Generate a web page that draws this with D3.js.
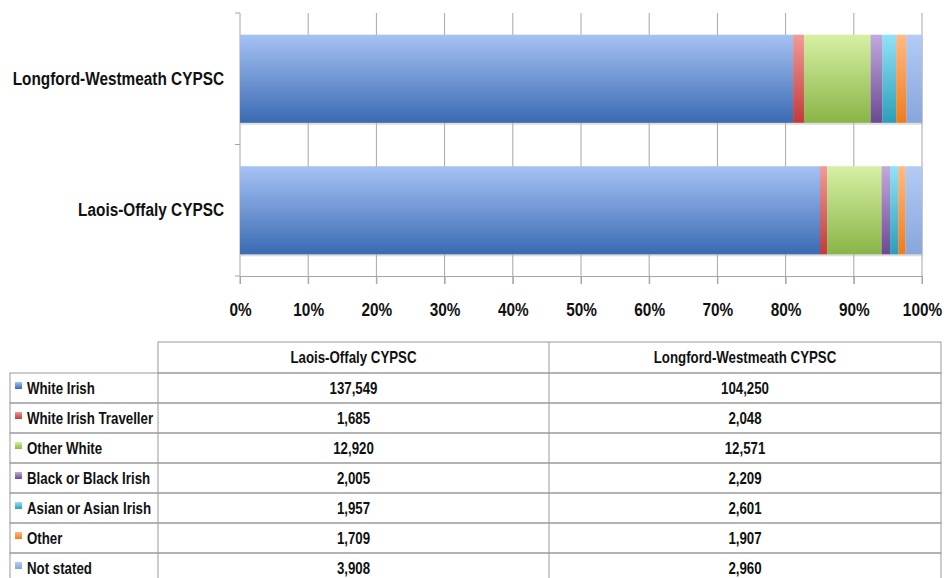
<!DOCTYPE html>
<html>
<head>
<meta charset="utf-8">
<script src="https://cdn.jsdelivr.net/npm/d3@7"></script>
<style>
  body { margin: 0; background: #fff; }
  text { font-family: "Liberation Sans", Arial, sans-serif; }
</style>
</head>
<body>
<div id="chart"></div>
<script>
// Data from the table
const categories = ["Laois-Offaly CYPSC", "Longford-Westmeath CYPSC"];
const groups = ["White Irish", "White Irish Traveller", "Other White", "Black or Black Irish",
  "Asian or Asian Irish", "Other", "Not stated"];
const laoisOffaly = [137549, 1685, 12920, 2005, 1957, 1709, 3908];
const longfordWestmeath = [104250, 2048, 12571, 2209, 2601, 1907, 2960];
const xTicks = [0, 0.1, 0.2, 0.3, 0.4, 0.5, 0.6, 0.7, 0.8, 0.9, 1];

// gradient colours (top, bottom) per group
const colTop = ["#a6c2f4", "#f29a98", "#d6f0a4", "#c2a9dd", "#92e2f8", "#ffba84", "#b3cbf5"];
const colBot = ["#3a6ab2", "#c23a3a", "#8ab447", "#6a4a92", "#2c9eb8", "#f07c1c", "#88a6dc"];

const width = 944, height = 578;
const x0 = 240, x1 = 922, yTop = 13, yBot = 276;
const narrow = 0.83; // squeeze to look like Arial Narrow

const svg = d3.select("#chart").append("svg")
  .attr("width", width).attr("height", height);

// squeeze text horizontally, keeping its anchor point
function squeeze(sel) {
  sel.each(function() {
    const t = d3.select(this);
    const xx = +t.attr("x") || 0;
    t.attr("x", xx / narrow).attr("transform", "scale(" + narrow + ",1)");
  });
}

const defs = svg.append("defs");
groups.forEach((g, i) => {
  const lg = defs.append("linearGradient").attr("id", "grad" + i)
    .attr("x1", 0).attr("y1", 0).attr("x2", 0).attr("y2", 1);
  lg.append("stop").attr("offset", "0%").attr("stop-color", colTop[i]);
  lg.append("stop").attr("offset", "100%").attr("stop-color", colBot[i]);
});

// table rows for the stack
const rows = categories.map((c, ci) => {
  const vals = ci === 0 ? laoisOffaly : longfordWestmeath;
  const r = { cat: c };
  groups.forEach((g, i) => r[g] = vals[i]);
  return r;
});
const series = d3.stack().keys(groups).offset(d3.stackOffsetExpand)(rows);

// scales
const x = d3.scaleLinear().domain([0, 1]).range([x0, x1]);
const y = d3.scaleBand()
  .domain(["Longford-Westmeath CYPSC", "Laois-Offaly CYPSC"])
  .range([yTop, yBot])
  .paddingInner(0.33)
  .paddingOuter(0.165);

// gridlines
svg.append("g").selectAll("line")
  .data(xTicks).enter().append("line")
  .attr("x1", d => x(d)).attr("x2", d => x(d))
  .attr("y1", yTop).attr("y2", yBot + 8)
  .attr("stroke", "#a6a6a6").attr("stroke-width", 1);

// faint shadow under bars
svg.append("g").selectAll("rect")
  .data(rows).enter().append("rect")
  .attr("x", x(0) + 1).attr("y", d => y(d.cat) + 2)
  .attr("width", x(1) - x(0)).attr("height", y.bandwidth())
  .attr("fill", "#bbb").attr("opacity", 0.5);

// bars
svg.append("g").selectAll("g")
  .data(series).enter().append("g")
  .attr("fill", (d, i) => "url(#grad" + i + ")")
  .selectAll("rect")
  .data(d => d).enter().append("rect")
  .attr("x", d => x(d[0]))
  .attr("y", d => y(d.data.cat))
  .attr("width", d => x(d[1]) - x(d[0]))
  .attr("height", y.bandwidth());

// x-axis
const xAxis = svg.append("g")
  .attr("transform", "translate(0," + yBot + ")")
  .call(d3.axisBottom(x).tickValues(xTicks).tickFormat(d3.format(".0%")).tickSize(8).tickPadding(19));
xAxis.select(".domain").attr("stroke", "#a6a6a6");
xAxis.selectAll(".tick line").attr("stroke", "#a6a6a6");
xAxis.selectAll("text").attr("font-size", 18.5).attr("font-weight", "bold").attr("fill", "#111")
  .style("font-family", '"Liberation Sans", Arial, sans-serif')
  .call(squeeze);

// y-axis (labels at band centres, ticks at band edges)
const yAxis = svg.append("g")
  .attr("transform", "translate(" + x0 + ",0)")
  .call(d3.axisLeft(y).tickSize(0).tickPadding(16));
yAxis.select(".domain").remove();
yAxis.selectAll("text").attr("font-size", 18.5).attr("font-weight", "bold").attr("fill", "#111")
  .style("font-family", '"Liberation Sans", Arial, sans-serif')
  .call(squeeze);
const edges = d3.range(categories.length + 1).map(i => yTop + i * y.step());
svg.append("g").selectAll("line")
  .data(edges).enter().append("line")
  .attr("x1", x0 - 5).attr("x2", x0)
  .attr("y1", d => d).attr("y2", d => d)
  .attr("stroke", "#a6a6a6");

// data table
const colX = [10, 158, 549, 941];
const tTop = 342, headH = 31, rowH = 30;
const tbl = svg.append("g").attr("class", "table");
const fmt = d3.format(",");

// header
tbl.append("rect").attr("x", colX[1]).attr("y", tTop)
  .attr("width", colX[3] - colX[1]).attr("height", headH)
  .attr("fill", "none").attr("stroke", "#9a9a9a");
tbl.append("line").attr("x1", colX[2]).attr("x2", colX[2])
  .attr("y1", tTop).attr("y2", tTop + headH + rowH * groups.length)
  .attr("stroke", "#9a9a9a");
tbl.selectAll(".hd").data(categories).enter().append("text")
  .attr("x", (d, i) => (colX[i + 1] + colX[i + 2]) / 2)
  .attr("y", tTop + headH / 2)
  .attr("dy", "0.35em").attr("text-anchor", "middle")
  .attr("font-size", 16).attr("font-weight", "bold").attr("fill", "#111")
  .text(d => d)
  .call(squeeze);

// rows
const rg = tbl.selectAll(".row").data(groups).enter().append("g")
  .attr("transform", (d, i) => "translate(0," + (tTop + headH + i * rowH) + ")");
rg.append("rect").attr("x", colX[0]).attr("y", 0)
  .attr("width", colX[3] - colX[0]).attr("height", rowH)
  .attr("fill", "none").attr("stroke", "#9a9a9a");
rg.append("line").attr("x1", colX[1]).attr("x2", colX[1])
  .attr("y1", 0).attr("y2", rowH).attr("stroke", "#9a9a9a");
rg.append("rect").attr("x", 15).attr("y", rowH / 2 - 6)
  .attr("width", 7).attr("height", 7)
  .attr("fill", (d, i) => "url(#grad" + i + ")");
rg.append("text").attr("x", 27).attr("y", rowH / 2).attr("dy", "0.35em")
  .attr("font-size", 16).attr("font-weight", "bold").attr("fill", "#111")
  .text(d => d)
  .call(squeeze);
rg.append("text").attr("x", (colX[1] + colX[2]) / 2).attr("y", rowH / 2).attr("dy", "0.35em")
  .attr("text-anchor", "middle").attr("font-size", 16).attr("font-weight", "bold").attr("fill", "#111")
  .text((d, i) => fmt(laoisOffaly[i]))
  .call(squeeze);
rg.append("text").attr("x", (colX[2] + colX[3]) / 2).attr("y", rowH / 2).attr("dy", "0.35em")
  .attr("text-anchor", "middle").attr("font-size", 16).attr("font-weight", "bold").attr("fill", "#111")
  .text((d, i) => fmt(longfordWestmeath[i]))
  .call(squeeze);
</script>
</body>
</html>
